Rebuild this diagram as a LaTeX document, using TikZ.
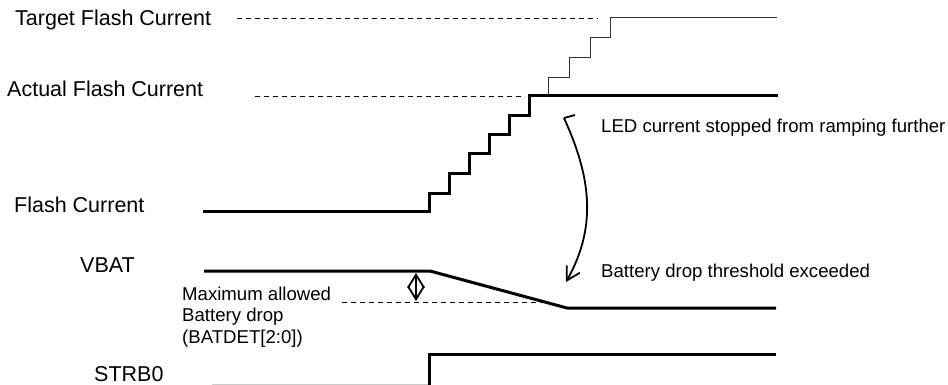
\documentclass[tikz,border=0pt]{standalone}
\usepackage{fontspec}
\setmainfont{Liberation Sans}
\usetikzlibrary{arrows.meta}

\begin{document}
\begin{tikzpicture}[x=1pt, y=-1pt,
  signal/.style={line width=3pt, line join=miter},   % driven waveform
  thinsig/.style={line width=1pt, black!80},          % requested ramp
  level/.style={line width=0.9pt, dash pattern=on 5pt off 4pt},
  marker/.style={line width=1.8pt},
  lbl/.style={anchor=base west, inner sep=0pt, font=\fontsize{21.5}{25}\selectfont},
  note/.style={anchor=base west, inner sep=0pt, align=left,
               font=\fontsize{18.6}{21.5}\selectfont},
]
\useasboundingbox (0,0) rectangle (948,385);

% Signal names
\node[lbl] (lTarget) at (15,26)  {Target Flash Current};
\node[lbl] (lActual) at (7,97)   {Actual Flash Current};
\node[lbl] (lFlash)  at (14,212) {Flash Current};
\node[lbl] (lVbat)   at (80,272) {VBAT};
\node[lbl] (lStrb)   at (94,381) {STRB0};

% Reference levels
\draw[level] (237,18) -- (598,18);
\draw[level] (255,96) -- (525,96);
\draw[level] (342,302) -- (543,302);

% Target ramp (thin)
\draw[thinsig] (548,96) |- (569,78) |- (590,58) |- (610,38) |- (777,18);

% Flash current ramp (thick)
\draw[signal] (203,211) -- (429,211) |- (449,193) |- (469,174) |- (489,154)
  |- (509,135) |- (529,116) |- (778,96);

% VBAT droop
\draw[signal] (204,271) -- (430,271) -- (567,308) -- (776,308);

% STRB0
\draw[line width=1pt, black!20] (212,384) -- (428,384);
\draw[signal] (429,387) -- (429,354) -- (776,354);

% Allowed battery drop
\coordinate (dropTop) at (416,273);
\coordinate (dropBot) at (416,301);
\draw[marker, {Straight Barb[length=13pt,width=16pt]}-{Straight Barb[length=13pt,width=16pt]}]
  (dropTop) -- (dropBot);
\node[note] (nDrop) at (182,343) {Maximum allowed\\Battery drop\\(BATDET[2:0])};

% Cause and effect
\node[note] (nStop) at (601,133) {LED current stopped from ramping further};
\node[note] (nBat)  at (601,277) {Battery drop threshold exceeded};
\coordinate (hook)  at (575,115);
\coordinate (arcS)  at (564,118);
\coordinate (arcE)  at (566,282);
\draw[marker] (hook) -- (arcS);
\draw[marker, -{Straight Barb[length=13pt,width=15pt]}]
  (arcS) .. controls (590,175) and (598,225) .. (arcE);

\end{tikzpicture}
\end{document}
